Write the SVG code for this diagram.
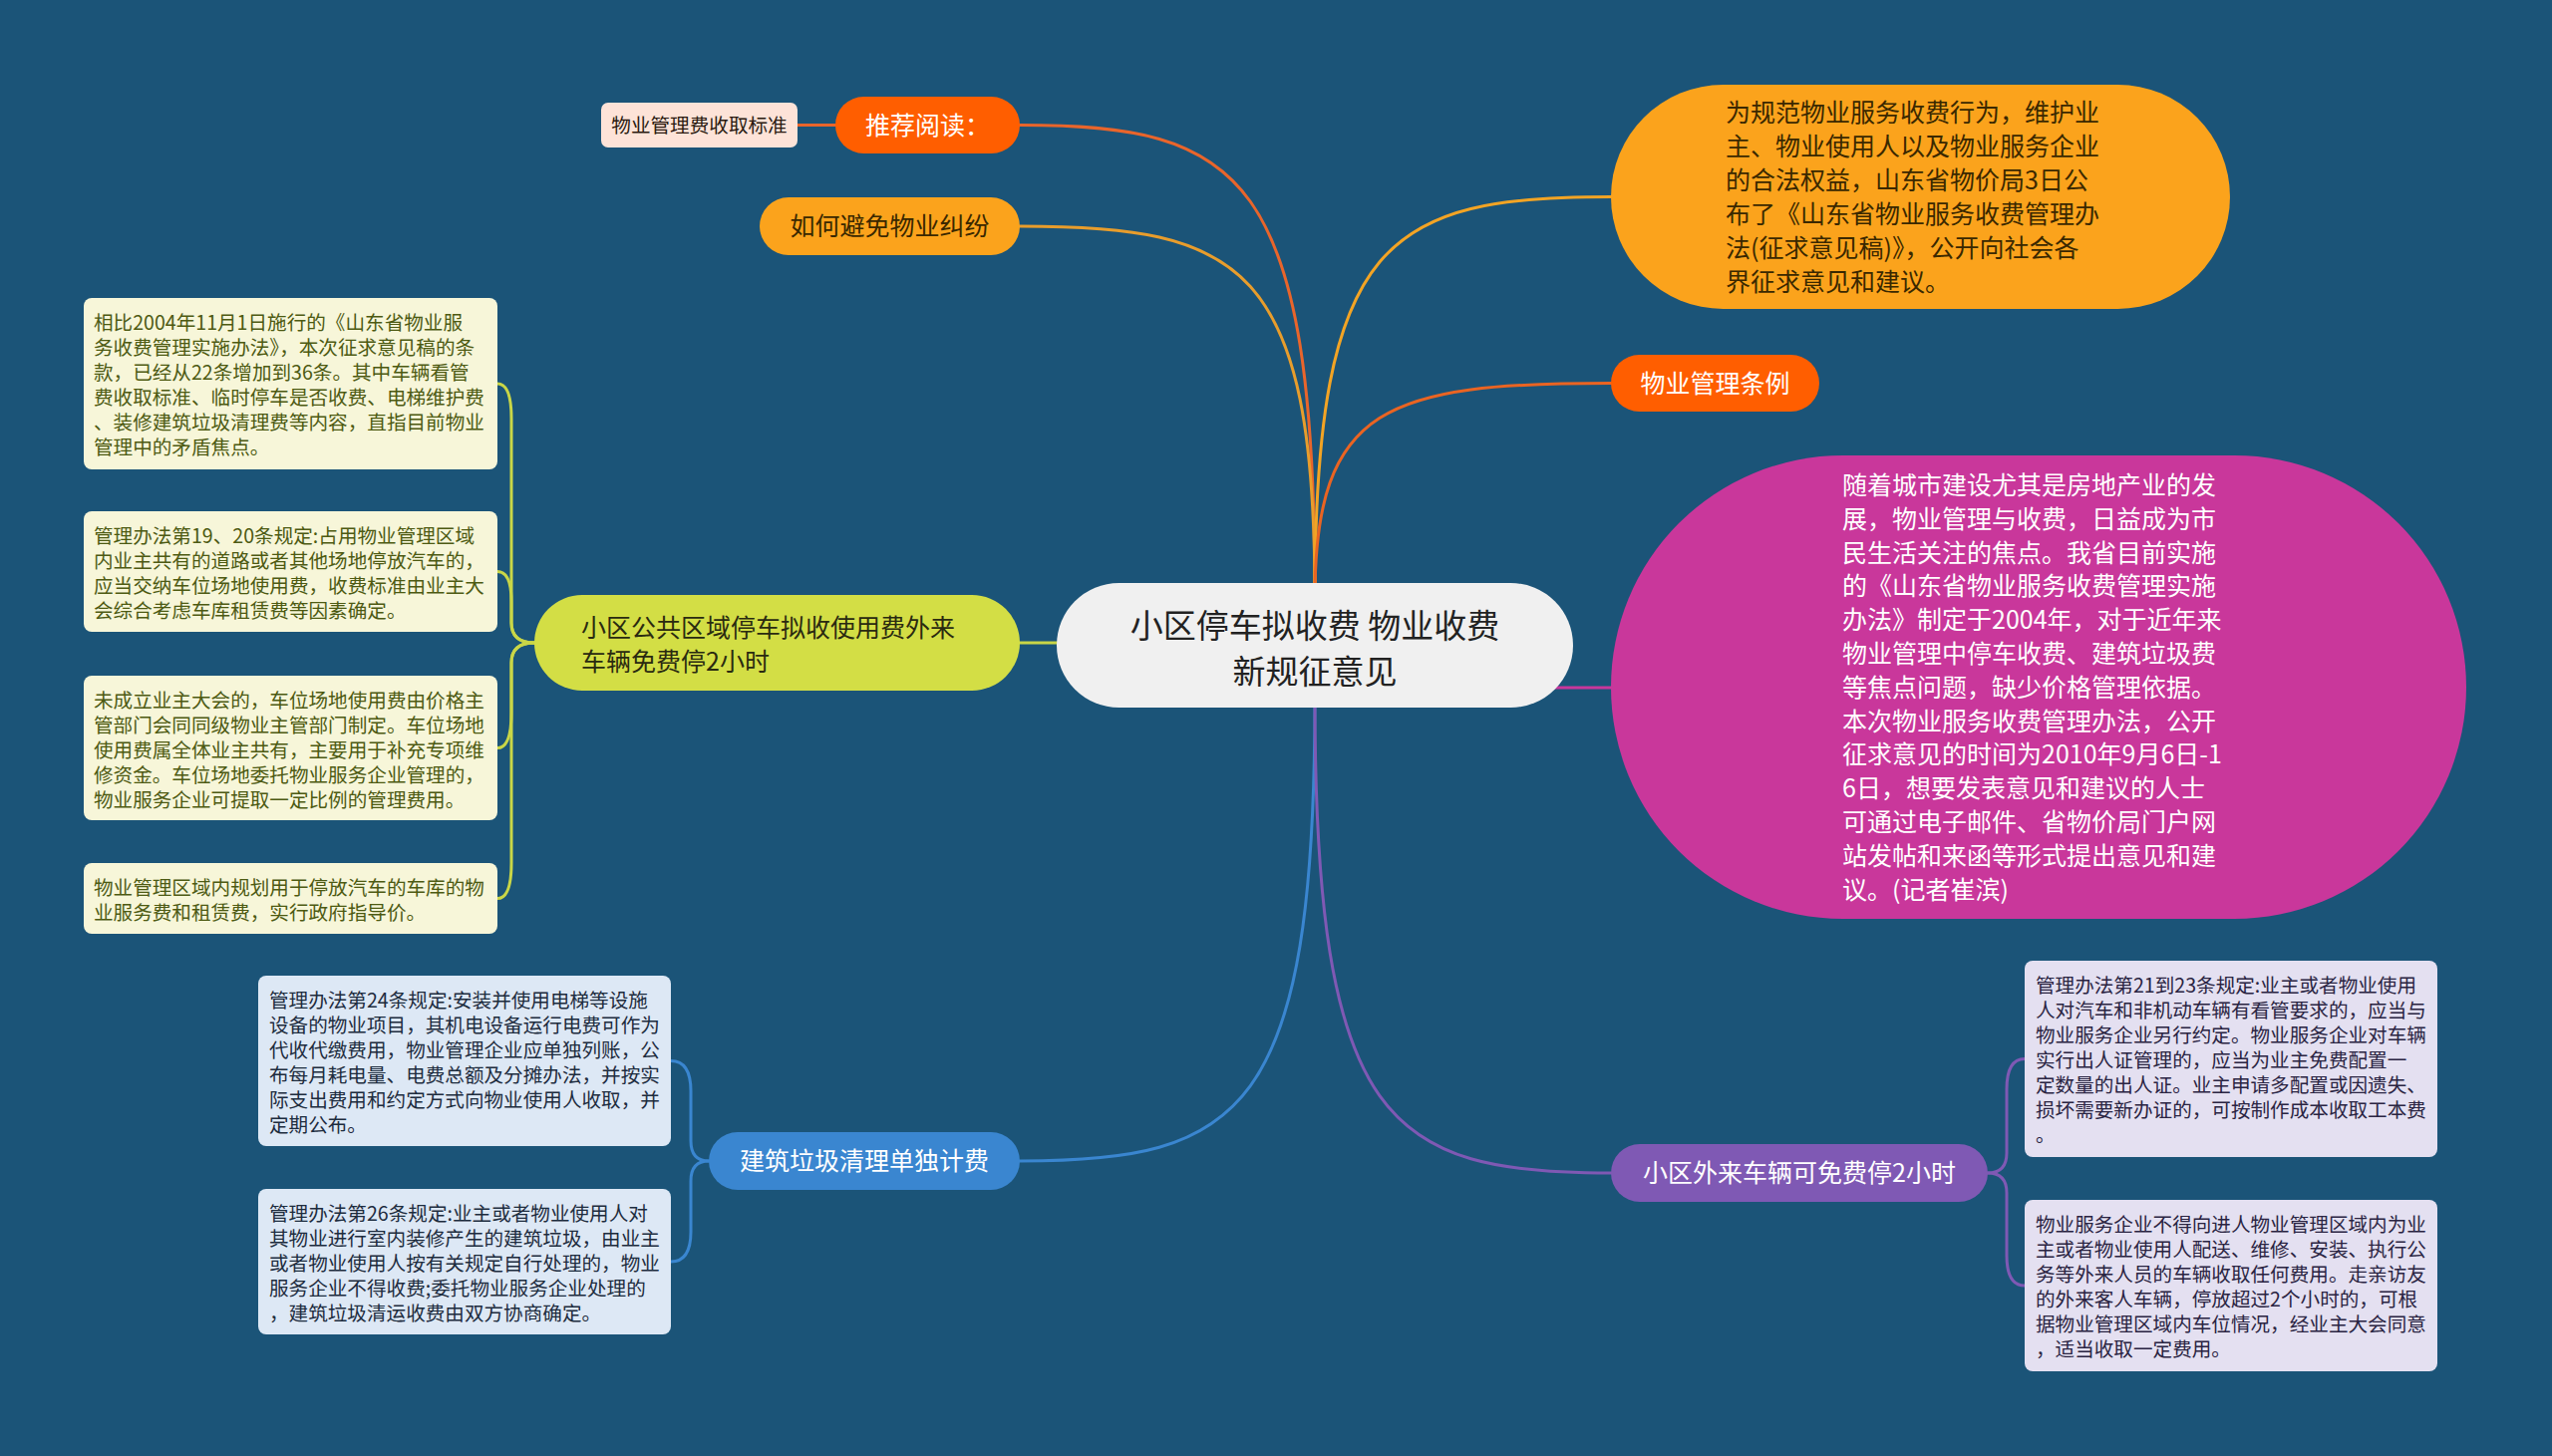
<svg xmlns="http://www.w3.org/2000/svg" width="2560" height="1461" viewBox="0 0 2560 1461">
<style>
text{font-family:"Noto Sans CJK SC","Noto Sans",sans-serif}
.c{fill:none;stroke-width:3;stroke-linecap:round}
.t25{font-size:25px}
.t20{font-size:19.6px}
.mid{text-anchor:middle}
.w{fill:#ffffff}
.yb{fill:#f7f6d9}
.ybt{fill:#4d5a12}
.bb{fill:#dde8f5}
.bbt{fill:#1d2c3e}
.pb{fill:#e4e0f1}
.pbt{fill:#2a2442}
</style>
<rect x="0" y="0" width="2560" height="1461" fill="#1b5478"/>
<g id="connectors">
<path class="c" stroke="#e9652b" d="M 1319 600 C 1319 172, 1245 125.5, 1023 125.5"/>
<path class="c" stroke="#e89d2c" d="M 1319 600 C 1319 264, 1245 227, 1023 227"/>
<path class="c" stroke="#f3a424" d="M 1319 600 C 1319 238, 1393 197.5, 1616 197.5"/>
<path class="c" stroke="#ea6422" d="M 1319 600 C 1319 406, 1393 384.5, 1616 384.5"/>
<path class="c" stroke="#c9d647" d="M 1023 645 L 1080 645"/>
<path class="c" stroke="#c9379b" d="M 1540 690 L 1616 690"/>
<path class="c" stroke="#3a86d0" d="M 1319 700 C 1319 1119, 1245 1165, 1023 1165"/>
<path class="c" stroke="#7f59b4" d="M 1319 700 C 1319 1129, 1393 1177, 1616 1177"/>
<path class="c" stroke="#e9652b" d="M 800 125.5 L 838 125.5"/>
<path class="c" stroke="#c9d647" d="M 536 645 Q 513 645 513 625 V 420 Q 513 385 499 385"/>
<path class="c" stroke="#c9d647" d="M 536 645 Q 513 645 513 625 V 603.5 Q 513 573.5 499 573.5"/>
<path class="c" stroke="#c9d647" d="M 536 645 Q 513 645 513 665 V 715 Q 513 750.5 499 750.5"/>
<path class="c" stroke="#c9d647" d="M 536 645 Q 513 645 513 665 V 866 Q 513 901.5 499 901.5"/>
<path class="c" stroke="#3a86d0" d="M 711 1165 Q 693 1165 693 1145 V 1095 Q 693 1064.5 673 1064.5"/>
<path class="c" stroke="#3a86d0" d="M 711 1165 Q 693 1165 693 1185 V 1236 Q 693 1266 673 1266"/>
<path class="c" stroke="#7f59b4" d="M 1994 1177 Q 2013 1177 2013 1157 V 1093 Q 2013 1062.5 2031 1062.5"/>
<path class="c" stroke="#7f59b4" d="M 1994 1177 Q 2013 1177 2013 1197 V 1260 Q 2013 1290 2031 1290"/>
</g>
<g id="root">
<rect x="1060" y="585" width="518" height="125" rx="62.5" fill="#f0f0f0"/>
<text class="mid" font-size="33" fill="#222222"><tspan x="1319" y="640">小区停车拟收费 物业收费</tspan><tspan x="1319" y="686">新规征意见</tspan></text>
</g>
<g id="n-tuijian">
<rect x="838" y="97" width="185" height="57" rx="28.5" fill="#ff5e00"/>
<text class="t25 mid w" x="930.5" y="134.5">推荐阅读：</text>
</g>
<g id="n-tuijian-child">
<rect x="603" y="103" width="197" height="45" rx="7" fill="#fde3d8"/>
<text class="t20 mid" fill="#2a1a10" x="701.5" y="132.5">物业管理费收取标准</text>
</g>
<g id="n-bimian">
<rect x="762" y="198" width="261" height="58" rx="29" fill="#fba31c"/>
<text class="t25 mid" fill="#3a2800" x="892.5" y="236">如何避免物业纠纷</text>
</g>
<g id="n-guifan">
<rect x="1616" y="85" width="621" height="225" rx="112.5" fill="#fba31c"/>
<text class="t25" fill="#3a2800"><tspan x="1731" y="121.5">为规范物业服务收费行为，维护业</tspan><tspan x="1731" y="155.5">主、物业使用人以及物业服务企业</tspan><tspan x="1731" y="189.5">的合法权益，山东省物价局3日公</tspan><tspan x="1731" y="223.5">布了《山东省物业服务收费管理办</tspan><tspan x="1731" y="257.5">法(征求意见稿)》，公开向社会各</tspan><tspan x="1731" y="291.5">界征求意见和建议。</tspan></text>
</g>
<g id="n-tiaoli">
<rect x="1616" y="356" width="209" height="57" rx="28.5" fill="#ff5e00"/>
<text class="t25 mid w" x="1720.5" y="393.5">物业管理条例</text>
</g>
<g id="n-suizhe">
<rect x="1616" y="457" width="858" height="465" rx="232.5" fill="#c9379b"/>
<text class="t25 w"><tspan x="1848" y="496">随着城市建设尤其是房地产业的发</tspan><tspan x="1848" y="529.8">展，物业管理与收费，日益成为市</tspan><tspan x="1848" y="563.6">民生活关注的焦点。我省目前实施</tspan><tspan x="1848" y="597.4">的《山东省物业服务收费管理实施</tspan><tspan x="1848" y="631.2">办法》制定于2004年，对于近年来</tspan><tspan x="1848" y="665">物业管理中停车收费、建筑垃圾费</tspan><tspan x="1848" y="698.8">等焦点问题，缺少价格管理依据。</tspan><tspan x="1848" y="732.6">本次物业服务收费管理办法，公开</tspan><tspan x="1848" y="766.4">征求意见的时间为2010年9月6日-1</tspan><tspan x="1848" y="800.2">6日，想要发表意见和建议的人士</tspan><tspan x="1848" y="834">可通过电子邮件、省物价局门户网</tspan><tspan x="1848" y="867.8">站发帖和来函等形式提出意见和建</tspan><tspan x="1848" y="901.6">议。(记者崔滨)</tspan></text>
</g>
<g id="n-gonggong">
<rect x="536" y="597" width="487" height="96" rx="48" fill="#d3de45"/>
<text class="t25" fill="#2a2a10"><tspan x="583" y="639">小区公共区域停车拟收使用费外来</tspan><tspan x="583" y="673">车辆免费停2小时</tspan></text>
</g>
<g id="n-g1">
<rect x="84" y="299" width="415" height="172" rx="8" class="yb"/>
<text class="t20 ybt"><tspan x="94" y="331">相比2004年11月1日施行的《山东省物业服</tspan><tspan x="94" y="356">务收费管理实施办法》，本次征求意见稿的条</tspan><tspan x="94" y="381">款，已经从22条增加到36条。其中车辆看管</tspan><tspan x="94" y="406">费收取标准、临时停车是否收费、电梯维护费</tspan><tspan x="94" y="431">、装修建筑垃圾清理费等内容，直指目前物业</tspan><tspan x="94" y="456">管理中的矛盾焦点。</tspan></text>
</g>
<g id="n-g2">
<rect x="84" y="513" width="415" height="121" rx="8" class="yb"/>
<text class="t20 ybt"><tspan x="94" y="545">管理办法第19、20条规定:占用物业管理区域</tspan><tspan x="94" y="570">内业主共有的道路或者其他场地停放汽车的，</tspan><tspan x="94" y="595">应当交纳车位场地使用费，收费标准由业主大</tspan><tspan x="94" y="620">会综合考虑车库租赁费等因素确定。</tspan></text>
</g>
<g id="n-g3">
<rect x="84" y="678" width="415" height="145" rx="8" class="yb"/>
<text class="t20 ybt"><tspan x="94" y="710">未成立业主大会的，车位场地使用费由价格主</tspan><tspan x="94" y="735">管部门会同同级物业主管部门制定。车位场地</tspan><tspan x="94" y="760">使用费属全体业主共有，主要用于补充专项维</tspan><tspan x="94" y="785">修资金。车位场地委托物业服务企业管理的，</tspan><tspan x="94" y="810">物业服务企业可提取一定比例的管理费用。</tspan></text>
</g>
<g id="n-g4">
<rect x="84" y="866" width="415" height="71" rx="8" class="yb"/>
<text class="t20 ybt"><tspan x="94" y="898">物业管理区域内规划用于停放汽车的车库的物</tspan><tspan x="94" y="923">业服务费和租赁费，实行政府指导价。</tspan></text>
</g>
<g id="n-laji">
<rect x="711" y="1136" width="312" height="58" rx="29" fill="#3a86d0"/>
<text class="t25 mid w" x="867" y="1174">建筑垃圾清理单独计费</text>
</g>
<g id="n-l1">
<rect x="259" y="979" width="414" height="171" rx="8" class="bb"/>
<text class="t20 bbt"><tspan x="270" y="1011">管理办法第24条规定:安装并使用电梯等设施</tspan><tspan x="270" y="1036">设备的物业项目，其机电设备运行电费可作为</tspan><tspan x="270" y="1061">代收代缴费用，物业管理企业应单独列账，公</tspan><tspan x="270" y="1086">布每月耗电量、电费总额及分摊办法，并按实</tspan><tspan x="270" y="1111">际支出费用和约定方式向物业使用人收取，并</tspan><tspan x="270" y="1136">定期公布。</tspan></text>
</g>
<g id="n-l2">
<rect x="259" y="1193" width="414" height="146" rx="8" class="bb"/>
<text class="t20 bbt"><tspan x="270" y="1225">管理办法第26条规定:业主或者物业使用人对</tspan><tspan x="270" y="1250">其物业进行室内装修产生的建筑垃圾，由业主</tspan><tspan x="270" y="1275">或者物业使用人按有关规定自行处理的，物业</tspan><tspan x="270" y="1300">服务企业不得收费;委托物业服务企业处理的</tspan><tspan x="270" y="1325">，建筑垃圾清运收费由双方协商确定。</tspan></text>
</g>
<g id="n-wailai">
<rect x="1616" y="1148" width="378" height="58" rx="29" fill="#7f59b4"/>
<text class="t25 mid w" x="1805" y="1186">小区外来车辆可免费停2小时</text>
</g>
<g id="n-w1">
<rect x="2031" y="964" width="414" height="197" rx="8" class="pb"/>
<text class="t20 pbt"><tspan x="2042" y="996">管理办法第21到23条规定:业主或者物业使用</tspan><tspan x="2042" y="1021">人对汽车和非机动车辆有看管要求的，应当与</tspan><tspan x="2042" y="1046">物业服务企业另行约定。物业服务企业对车辆</tspan><tspan x="2042" y="1071">实行出人证管理的，应当为业主免费配置一</tspan><tspan x="2042" y="1096">定数量的出人证。业主申请多配置或因遗失、</tspan><tspan x="2042" y="1121">损坏需要新办证的，可按制作成本收取工本费</tspan><tspan x="2042" y="1146">。</tspan></text>
</g>
<g id="n-w2">
<rect x="2031" y="1204" width="414" height="172" rx="8" class="pb"/>
<text class="t20 pbt"><tspan x="2042" y="1236">物业服务企业不得向进人物业管理区域内为业</tspan><tspan x="2042" y="1261">主或者物业使用人配送、维修、安装、执行公</tspan><tspan x="2042" y="1286">务等外来人员的车辆收取任何费用。走亲访友</tspan><tspan x="2042" y="1311">的外来客人车辆，停放超过2个小时的，可根</tspan><tspan x="2042" y="1336">据物业管理区域内车位情况，经业主大会同意</tspan><tspan x="2042" y="1361">，适当收取一定费用。</tspan></text>
</g>
</svg>
